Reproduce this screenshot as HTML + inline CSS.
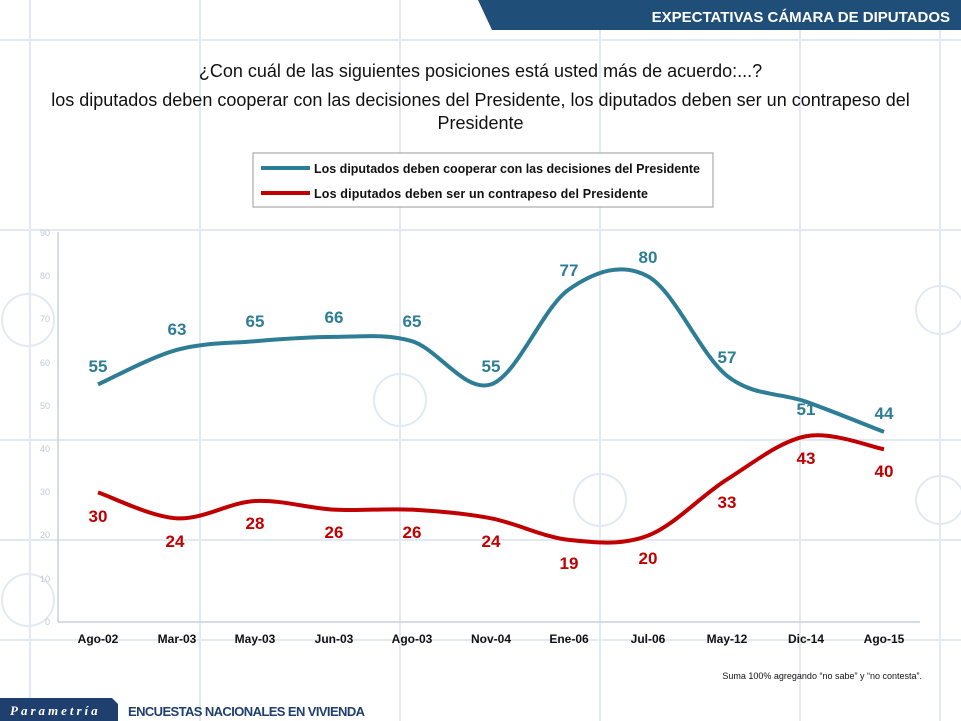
<!DOCTYPE html>
<html><head><meta charset="utf-8"><style>
body{margin:0;width:961px;height:721px;overflow:hidden;background:#fff;font-family:"Liberation Sans",sans-serif;position:relative}
.t{position:absolute;left:0;width:961px;text-align:center;color:#111;font-size:18px}
</style></head><body>
<svg width="961" height="721" style="position:absolute;left:0;top:0" font-family="Liberation Sans, sans-serif">
<g stroke="#e3e9f2" stroke-width="2" fill="none">
<line x1="0" y1="40" x2="961" y2="40"/><line x1="0" y1="230" x2="961" y2="230"/><line x1="0" y1="440" x2="961" y2="440"/><line x1="0" y1="540" x2="961" y2="540"/><line x1="0" y1="640" x2="961" y2="640"/>
<line x1="30" y1="0" x2="30" y2="721"/><line x1="200" y1="0" x2="200" y2="721"/><line x1="400" y1="0" x2="400" y2="721"/><line x1="600" y1="0" x2="600" y2="721"/><line x1="800" y1="0" x2="800" y2="721"/><line x1="940" y1="0" x2="940" y2="721"/>
<circle cx="28" cy="320" r="26"/><circle cx="28" cy="600" r="26"/><circle cx="400" cy="400" r="26"/><circle cx="940" cy="310" r="24"/><circle cx="940" cy="500" r="24"/><circle cx="600" cy="500" r="26"/>
</g>
<line x1="58" y1="232" x2="58" y2="622" stroke="#c8d0dc" stroke-width="1.5"/>
<line x1="58" y1="622" x2="920" y2="622" stroke="#c8d0dc" stroke-width="1.5"/>
<g font-size="9" fill="#c0c8d4" text-anchor="end">
<text x="50" y="236">90</text><text x="50" y="279">80</text><text x="50" y="322">70</text><text x="50" y="366">60</text><text x="50" y="409">50</text><text x="50" y="452">40</text><text x="50" y="495">30</text><text x="50" y="538">20</text><text x="50" y="582">10</text><text x="50" y="625">0</text>
</g>
<polygon points="478,0 961,0 961,30 492,30" fill="#1f4e79"/>
<text x="950" y="22" font-size="15" font-weight="bold" fill="#fff" text-anchor="end">EXPECTATIVAS CÁMARA DE DIPUTADOS</text>
<rect x="253" y="153" width="460" height="54" fill="#fff" stroke="#999"/>
<line x1="261" y1="168" x2="310" y2="168" stroke="#2e7d96" stroke-width="4"/>
<text x="314" y="173" font-size="12.5" font-weight="bold" fill="#111" textLength="386">Los diputados deben cooperar con las decisiones del Presidente</text>
<line x1="261" y1="193" x2="310" y2="193" stroke="#c00000" stroke-width="4"/>
<text x="314" y="198" font-size="12.5" font-weight="bold" fill="#111" textLength="334">Los diputados deben ser un contrapeso del  Presidente</text>
<path id="pb" fill="none" stroke="#2e7d96" stroke-width="4"/>
<path id="pr" fill="none" stroke="#c00000" stroke-width="4"/>
<g font-size="17" font-weight="bold" fill="#2e7d96" text-anchor="middle">
<text x="98" y="372">55</text><text x="177" y="335">63</text><text x="255" y="327">65</text><text x="334" y="323">66</text><text x="412" y="327">65</text><text x="491" y="372">55</text><text x="569" y="276">77</text><text x="648" y="263">80</text><text x="727" y="363">57</text><text x="806" y="415">51</text><text x="884" y="419">44</text>
</g>
<g font-size="17" font-weight="bold" fill="#c00000" text-anchor="middle">
<text x="98" y="522">30</text><text x="175" y="547">24</text><text x="255" y="529">28</text><text x="334" y="538">26</text><text x="412" y="538">26</text><text x="491" y="547">24</text><text x="569" y="569">19</text><text x="648" y="564">20</text><text x="727" y="508">33</text><text x="806" y="464">43</text><text x="884" y="477">40</text>
</g>
<g font-size="12" font-weight="bold" fill="#111" text-anchor="middle">
<text x="98" y="643">Ago-02</text><text x="177" y="643">Mar-03</text><text x="255" y="643">May-03</text><text x="334" y="643">Jun-03</text><text x="412" y="643">Ago-03</text><text x="491" y="643">Nov-04</text><text x="569" y="643">Ene-06</text><text x="648" y="643">Jul-06</text><text x="727" y="643">May-12</text><text x="806" y="643">Dic-14</text><text x="884" y="643">Ago-15</text>
</g>
<text x="922" y="679" font-size="9" fill="#111" text-anchor="end">Suma 100%  agregando “no sabe” y “no contesta”.</text>
<polygon points="0,698 112,698 118,704 118,721 0,721" fill="#1f3f6e"/>
<text x="10" y="715" font-size="13" font-style="italic" font-weight="bold" fill="#fff" letter-spacing="3" font-family="Liberation Serif, serif">Parametría</text>
<text x="128" y="716" font-size="13" font-weight="bold" fill="#1f3f6e" textLength="237">ENCUESTAS NACIONALES EN VIVIENDA</text>
</svg>
<div class="t" style="top:61px">¿Con cuál de las siguientes posiciones está usted más de acuerdo:...?</div>
<div class="t" style="top:90px">los diputados deben cooperar con las decisiones del Presidente, los diputados deben ser un contrapeso del</div>
<div class="t" style="top:113px">Presidente</div>
<script>
var xs=[98,177,255,334,412,491,569,648,727,806,884];
function y(v){return 622-4.32*v}
function path(vals){var p=xs.map(function(x,i){return [x,y(vals[i])]});var d="M"+p[0][0]+","+p[0][1];
for(var i=0;i<p.length-1;i++){var a=p[i-1]||p[i],b=p[i],c=p[i+1],e=p[i+2]||c;
d+=" C"+(b[0]+(c[0]-a[0])/6)+","+(b[1]+(c[1]-a[1])/6)+" "+(c[0]-(e[0]-b[0])/6)+","+(c[1]-(e[1]-b[1])/6)+" "+c[0]+","+c[1];}return d}
document.getElementById("pb").setAttribute("d",path([55,63,65,66,65,55,77,80,57,51,44]));
document.getElementById("pr").setAttribute("d",path([30,24,28,26,26,24,19,20,33,43,40]));
</script>
</body></html>
